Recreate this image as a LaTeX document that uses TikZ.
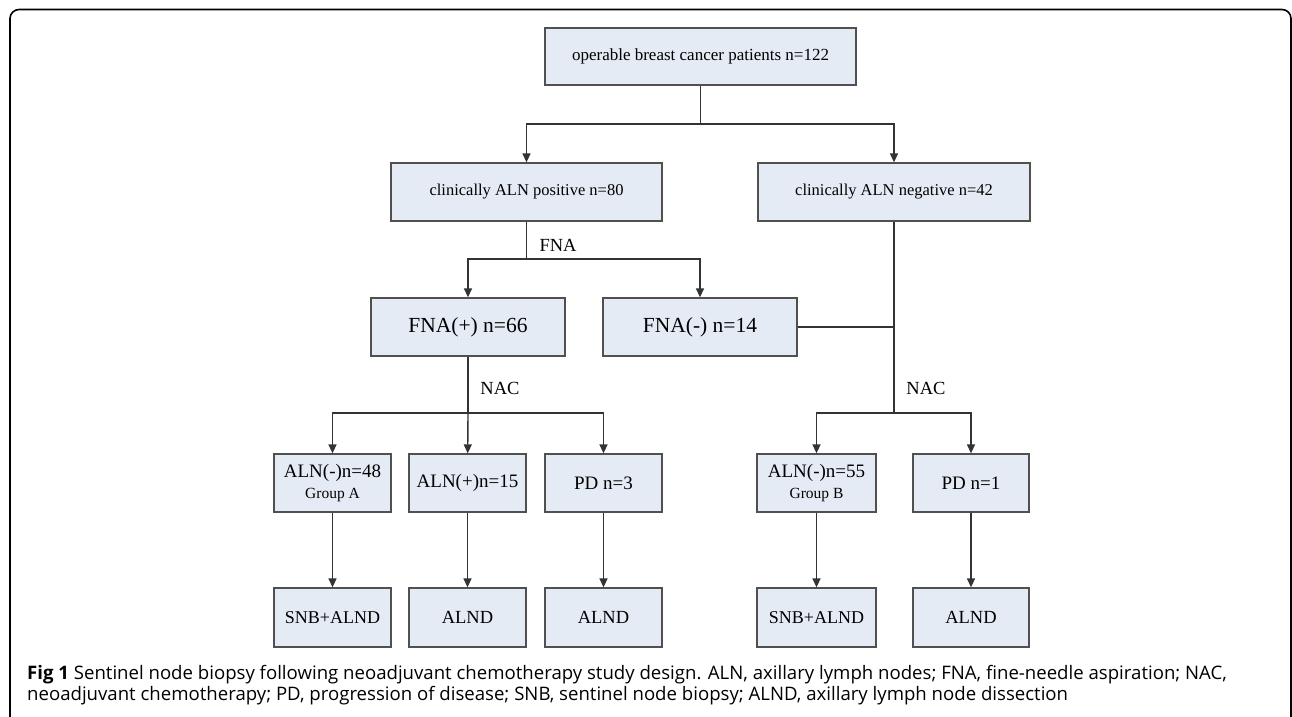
\documentclass[tikz,border=0pt]{standalone}
\usepackage{fontspec}
\setmainfont{Liberation Serif}
\newfontfamily\capfont{Open Sans}
\usetikzlibrary{arrows.meta}
\definecolor{boxfill}{HTML}{E5EBF5}
\definecolor{boxline}{HTML}{505050}
\definecolor{conline}{HTML}{333333}
\begin{document}
\begin{tikzpicture}[x=1pt,y=-1pt,
  box/.style={draw=boxline, line width=1.3pt, fill=boxfill, inner sep=0pt, align=center},
  conn/.style={draw=conline, line width=1.4pt},
  arr/.style={conn, -{Triangle[length=9pt,width=8pt]}},
  lbl/.style={inner sep=0pt, font=\fontsize{18.5}{20}\selectfont},
  captxt/.style={anchor=base west, inner sep=0pt, font=\capfont\fontsize{18.6}{20}\selectfont}]
\useasboundingbox (0,0) rectangle (1292,716);
% frame
\draw[line width=1.6pt, rounded corners=9pt] (10,730) -- (10,9.5) -- (1291,9.5) -- (1291,730);
% nodes
\node[box, minimum width=311pt, minimum height=57pt, font=\fontsize{17}{19}\selectfont] (top) at (700.5,56.5) {operable breast cancer patients n=122};
\node[box, minimum width=271pt, minimum height=58pt, font=\fontsize{16.5}{18}\selectfont] (pos) at (526.5,192) {clinically ALN positive n=80};
\node[box, minimum width=272pt, minimum height=58pt, font=\fontsize{16.5}{18}\selectfont] (neg) at (894,192) {clinically ALN negative n=42};
\node[box, minimum width=194pt, minimum height=58pt, font=\fontsize{21.5}{23}\selectfont] (fnap) at (468,327) {FNA(+) n=66};
\node[box, minimum width=194pt, minimum height=58pt, font=\fontsize{21.5}{23}\selectfont] (fnan) at (700,327) {FNA(-) n=14};
\node[box, minimum width=117pt, minimum height=58pt, font=\fontsize{19}{22}\selectfont] (a1) at (332.5,483) {ALN(-)n=48\\[-1pt]{\fontsize{15.5}{17}\selectfont Group A}};
\node[box, minimum width=117pt, minimum height=58pt, font=\fontsize{19}{22}\selectfont] (a2) at (467.5,483) {ALN(+)n=15};
\node[box, minimum width=117pt, minimum height=58pt, font=\fontsize{19}{22}\selectfont] (a3) at (603.5,483) {PD n=3};
\node[box, minimum width=119pt, minimum height=58pt, font=\fontsize{19}{22}\selectfont] (b1) at (816.5,483) {ALN(-)n=55\\[-1pt]{\fontsize{15.5}{17}\selectfont Group B}};
\node[box, minimum width=116pt, minimum height=58pt, font=\fontsize{19}{22}\selectfont] (b2) at (971,483) {PD n=1};
\node[box, minimum width=117pt, minimum height=59pt, font=\fontsize{18}{20}\selectfont] (a1o) at (332.5,617.5) {SNB+ALND};
\node[box, minimum width=117pt, minimum height=59pt, font=\fontsize{18.5}{20}\selectfont] (a2o) at (467.5,617.5) {ALND};
\node[box, minimum width=117pt, minimum height=59pt, font=\fontsize{18.5}{20}\selectfont] (a3o) at (603.5,617.5) {ALND};
\node[box, minimum width=119pt, minimum height=59pt, font=\fontsize{18}{20}\selectfont] (b1o) at (816.5,617.5) {SNB+ALND};
\node[box, minimum width=116pt, minimum height=59pt, font=\fontsize{18.5}{20}\selectfont] (b2o) at (971,617.5) {ALND};
% labels
\node[lbl] (fna) at (558,245) {FNA};
\node[lbl] (nac1) at (500,388) {NAC};
\node[lbl] (nac2) at (926,388) {NAC};
% junctions
\coordinate (j1) at (700.5,124);
\coordinate (j2) at (526.5,259);
\coordinate (j3) at (468,413);
\coordinate (j4) at (894,413);
\coordinate (j5) at (894,327);
% connectors
\draw[conn] (top) -- (j1);
\draw[arr] (j1) -| (pos);
\draw[arr] (j1) -| (neg);
\draw[conn] (pos) -- (j2);
\draw[arr] (j2) -| (fnap);
\draw[arr] (j2) -| (fnan);
\draw[conn] (fnap) -- (j3);
\draw[arr] (j3) -| (a1);
\draw[arr] (j3) -- (a2);
\draw[arr] (j3) -| (a3);
\draw[conn] (neg) -- (j4);
\draw[conn] (fnan) -- (j5);
\draw[arr] (j4) -| (b1);
\draw[arr] (j4) -| (b2);
\draw[arr] (a1) -- (a1o);
\draw[arr] (a2) -- (a2o);
\draw[arr] (a3) -- (a3o);
\draw[arr] (b1) -- (b1o);
\draw[arr] (b2) -- (b2o);
% caption
\node[captxt] (cap1) at (27,679) {\textbf{Fig 1} Sentinel node biopsy following neoadjuvant chemotherapy study design. ALN, axillary lymph nodes; FNA, fine-needle aspiration; NAC,};
\node[captxt] (cap2) at (27,700) {neoadjuvant chemotherapy; PD, progression of disease; SNB, sentinel node biopsy; ALND, axillary lymph node dissection};
\end{tikzpicture}
\end{document}
